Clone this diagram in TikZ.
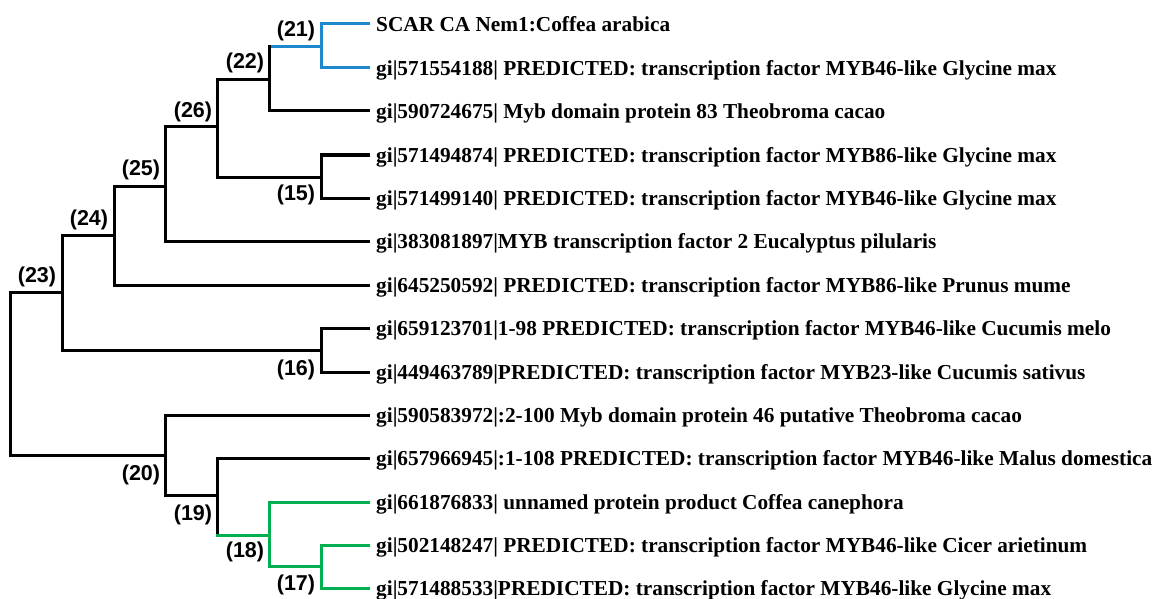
\documentclass[tikz,border=0pt]{standalone}
\usepackage{fontspec}
\setmainfont{Liberation Serif}
\newfontfamily\lblfont{Liberation Sans}
\definecolor{treeblue}{RGB}{30,136,204}
\definecolor{treegreen}{RGB}{0,176,80}
\begin{document}
\begin{tikzpicture}[x=1pt,y=-1pt,
  branch/.style={line width=3pt,line cap=rect,black},
  bluebr/.style={branch,draw=treeblue},
  greenbr/.style={branch,draw=treegreen},
  leaf/.style={anchor=west,inner xsep=8pt,inner ysep=0pt,text height=19pt,text depth=4pt,
    font=\fontsize{21.3}{25}\selectfont\bfseries},
  nlabel/.style={inner sep=0pt,font=\lblfont\fontsize{21.5}{25}\selectfont\bfseries}]
\useasboundingbox (0,0) rectangle (1159,599);
% leaves
\node[leaf] (L1) at (368,24) {SCAR CA Nem1:Coffea arabica};
\node[leaf] (L2) at (368,68) {gi|571554188| PREDICTED: transcription factor MYB46-like Glycine max};
\node[leaf] (L3) at (368,111) {gi|590724675| Myb domain protein 83 Theobroma cacao};
\node[leaf] (L4) at (368,155) {gi|571494874| PREDICTED: transcription factor MYB86-like Glycine max};
\node[leaf] (L5) at (368,198) {gi|571499140| PREDICTED: transcription factor MYB46-like Glycine max};
\node[leaf] (L6) at (368,241) {gi|383081897|MYB transcription factor 2 Eucalyptus pilularis};
\node[leaf] (L7) at (368,285) {gi|645250592| PREDICTED: transcription factor MYB86-like Prunus mume};
\node[leaf] (L8) at (368,328) {gi|659123701|1-98 PREDICTED: transcription factor MYB46-like Cucumis melo};
\node[leaf] (L9) at (368,372) {gi|449463789|PREDICTED: transcription factor MYB23-like Cucumis sativus};
\node[leaf] (L10) at (368,415) {gi|590583972|:2-100 Myb domain protein 46 putative Theobroma cacao};
\node[leaf] (L11) at (368,458) {gi|657966945|:1-108 PREDICTED: transcription factor MYB46-like Malus domestica};
\node[leaf] (L12) at (368,502) {gi|661876833| unnamed protein product Coffea canephora};
\node[leaf] (L13) at (368,545) {gi|502148247| PREDICTED: transcription factor MYB46-like Cicer arietinum};
\node[leaf] (L14) at (368,588) {gi|571488533|PREDICTED: transcription factor MYB46-like Glycine max};
% internal junctions
\coordinate (n21) at (321,47);
\coordinate (n22) at (269,80);
\coordinate (n26) at (217,127);
\coordinate (n15) at (321,177);
\coordinate (n25) at (165,186);
\coordinate (n24) at (114,235);
\coordinate (n23) at (62,292);
\coordinate (n16) at (321,350);
\coordinate (n20) at (165,455);
\coordinate (n19) at (217,495);
\coordinate (n18) at (269,535);
\coordinate (n17) at (321,566);
\coordinate (root) at (10,373);
% branches
\draw[bluebr] (n21) |- (L1.west);
\draw[bluebr] (n21) |- (L2.west);
\draw[bluebr] (n22 |- n21) -- (n21);
\draw[branch] (n22) |- (L3.west);
\draw[branch] (n22 |- n21) -- (n22);
\draw[branch] (n26) |- (n22);
\draw[branch] (n26) |- (n15);
\draw[branch] (n15) |- (L4.west);
\draw[branch] (n15) |- (L5.west);
\draw[branch] (n25) |- (n26);
\draw[branch] (n25) |- (L6.west);
\draw[branch] (n24) |- (n25);
\draw[branch] (n24) |- (L7.west);
\draw[branch] (n23) |- (n24);
\draw[branch] (n23) |- (n16);
\draw[branch] (n16) |- (L8.west);
\draw[branch] (n16) |- (L9.west);
\draw[branch] (root) |- (n23);
\draw[branch] (root) |- (n20);
\draw[branch] (n20) |- (L10.west);
\draw[branch] (n20) |- (n19);
\draw[branch] (n19) |- (L11.west);
\draw[branch] (n19) -- (n19 |- n18);
\draw[greenbr] (n19 |- n18) -- (n18);
\draw[greenbr] (n18) |- (L12.west);
\draw[greenbr] (n18) |- (n17);
\draw[greenbr] (n17) |- (L13.west);
\draw[greenbr] (n17) |- (L14.west);
% labels
\node[nlabel] (t21) at (296,31) {(21)};
\node[nlabel] (t22) at (245,63) {(22)};
\node[nlabel] (t26) at (193,112) {(26)};
\node[nlabel] (t25) at (141,170) {(25)};
\node[nlabel] (t24) at (89,220) {(24)};
\node[nlabel] (t23) at (37,277) {(23)};
\node[nlabel] (t15) at (296,195) {(15)};
\node[nlabel] (t16) at (296,370) {(16)};
\node[nlabel] (t20) at (141,475) {(20)};
\node[nlabel] (t19) at (193,515) {(19)};
\node[nlabel] (t18) at (245,552) {(18)};
\node[nlabel] (t17) at (296,585) {(17)};
\end{tikzpicture}
\end{document}
